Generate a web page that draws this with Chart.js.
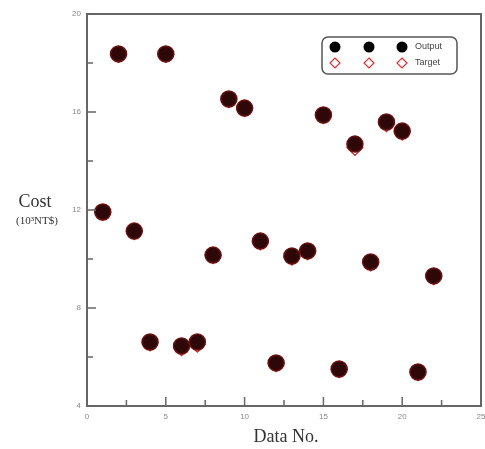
<!DOCTYPE html>
<html>
<head>
<meta charset="utf-8">
<script src="https://cdn.jsdelivr.net/npm/chart.js@4.4.0/dist/chart.umd.min.js"></script>
<style>
  html, body { margin: 0; padding: 0; background: #fff; }
  #wrap { width: 485px; height: 449px; }
</style>
</head>
<body>
<div id="wrap"><canvas id="myChart" width="485" height="449"></canvas></div>
<script>
// datos
const dataNo = [1, 2, 3, 4, 5, 6, 7, 8, 9, 10, 11, 12, 13, 14, 15, 16, 17, 18, 19, 20, 21, 22];
const output = [11.92, 18.37, 11.14, 6.61, 18.37, 6.45, 6.61, 10.16, 16.53, 16.16, 10.73, 5.76, 10.12, 10.33, 15.88, 5.51, 14.69, 9.88, 15.59, 15.22, 5.39, 9.31];
const target = [11.90, 18.35, 11.12, 6.58, 18.35, 6.38, 6.52, 10.14, 16.50, 16.14, 10.70, 5.73, 10.08, 10.30, 15.85, 5.48, 14.55, 9.84, 15.52, 15.18, 5.36, 9.28];
const xTicks = [0, 5, 10, 15, 20, 25];
const yTicks = [4, 8, 12, 16, 20];

const toXY = (vals) => dataNo.map((n, i) => ({ x: n, y: vals[i] }));

// marco, marcas internas, titulos y leyenda
const marco = {
  id: 'marco',
  afterDraw(chart) {
    const { ctx, chartArea: a, scales: { x, y } } = chart;
    ctx.save();
    ctx.strokeStyle = '#666';
    ctx.lineWidth = 2;
    ctx.strokeRect(a.left, a.top, a.right - a.left, a.bottom - a.top);

    ctx.lineWidth = 1.5;
    ctx.beginPath();
    for (let v = 0; v <= 25; v += 2.5) {
      const px = x.getPixelForValue(v);
      const len = v % 5 === 0 ? 9 : 6;
      ctx.moveTo(px, a.bottom); ctx.lineTo(px, a.bottom - len);
    }
    for (let v = 4; v <= 20; v += 2) {
      const py = y.getPixelForValue(v);
      const len = v % 4 === 0 ? 9 : 6;
      ctx.moveTo(a.left, py); ctx.lineTo(a.left + len, py);
    }
    ctx.stroke();

    // etiquetas del eje x (el 25 queda cortado en el borde)
    ctx.fillStyle = '#888';
    ctx.font = '8px Arial';
    ctx.textAlign = 'center';
    ctx.textBaseline = 'top';
    xTicks.forEach((v) => ctx.fillText(String(v), x.getPixelForValue(v), a.bottom + 7));

    // titulos de ejes
    ctx.fillStyle = '#333';
    ctx.textBaseline = 'middle';
    ctx.font = '18px "Liberation Serif", serif';
    ctx.fillText('Data No.', (a.left + a.right) / 2 + 2, 437);
    ctx.fillText('Cost', 35, 202);
    ctx.font = '11px "Liberation Serif", serif';
    ctx.fillText('(10\u00B3NT$)', 37, 221);

    // leyenda
    const bx = 322, by = 37, bw = 135, bh = 37;
    ctx.strokeStyle = '#555';
    ctx.lineWidth = 1.5;
    ctx.beginPath();
    ctx.roundRect(bx, by, bw, bh, 6);
    ctx.stroke();
    [335, 369, 402].forEach((cx) => {
      ctx.fillStyle = '#000';
      ctx.beginPath();
      ctx.arc(cx, 47, 5.5, 0, Math.PI * 2);
      ctx.fill();
      ctx.strokeStyle = '#e03030';
      ctx.lineWidth = 1.2;
      ctx.beginPath();
      ctx.moveTo(cx, 58); ctx.lineTo(cx + 5, 63); ctx.lineTo(cx, 68); ctx.lineTo(cx - 5, 63);
      ctx.closePath();
      ctx.stroke();
    });
    ctx.fillStyle = '#444';
    ctx.textAlign = 'left';
    ctx.font = '9px Arial, "Liberation Sans", sans-serif';
    ctx.fillText('Output', 415, 47);
    ctx.fillText('Target', 415, 63);
    ctx.restore();
  }
};

const ctx = document.getElementById('myChart');
new Chart(ctx, {
  type: 'scatter',
  data: {
    datasets: [
      {
        label: 'Output',
        data: toXY(output),
        pointStyle: 'circle',
        pointRadius: 8,
        pointBackgroundColor: '#2e0808',
        pointBorderColor: '#6a1010',
        pointBorderWidth: 1.5
      },
      {
        label: 'Target',
        data: toXY(target),
        pointStyle: 'rectRot',
        pointRadius: 8,
        pointBackgroundColor: '#ffffff',
        pointBorderColor: '#d02020',
        pointBorderWidth: 1.2
      }
    ]
  },
  options: {
    responsive: false,
    animation: false,
    layout: { autoPadding: false, padding: { left: 0, right: 4, top: 14, bottom: 0 } },
    plugins: { legend: { display: false }, tooltip: { enabled: false } },
    scales: {
      x: {
        type: 'linear', min: 0, max: 25,
        afterFit: (s) => { s.height = 43; s.paddingLeft = 0; s.paddingRight = 0; },
        afterBuildTicks: (s) => { s.ticks = xTicks.map((v) => ({ value: v })); },
        grid: { display: false, drawTicks: false },
        border: { display: false },
        ticks: { display: false }
      },
      y: {
        type: 'linear', min: 4, max: 20,
        afterFit: (s) => { s.width = 87; s.paddingTop = 0; s.paddingBottom = 0; },
        afterBuildTicks: (s) => { s.ticks = yTicks.map((v) => ({ value: v })); },
        grid: { display: false, drawTicks: false },
        border: { display: false },
        ticks: { padding: 6, color: '#888', font: { size: 8, family: 'Arial' } }
      }
    }
  },
  plugins: [marco]
});
</script>
</body>
</html>
